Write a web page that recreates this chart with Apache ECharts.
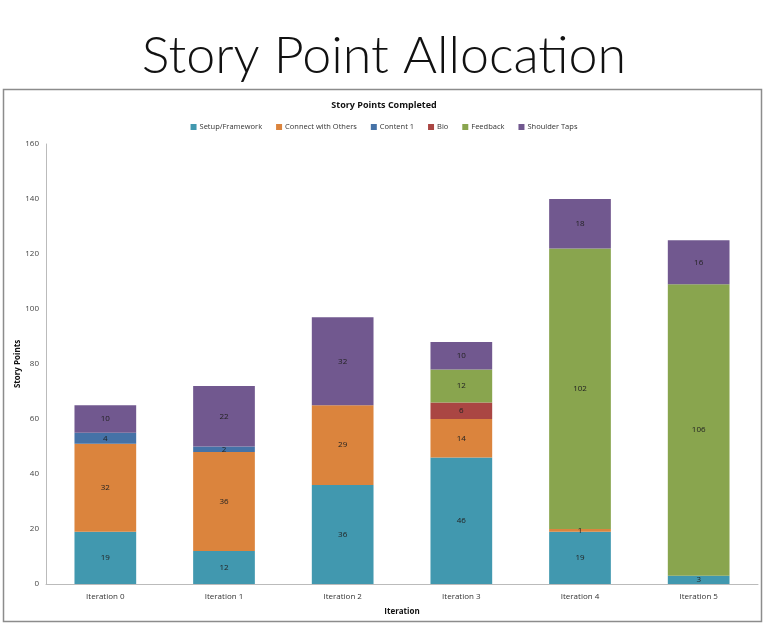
<!DOCTYPE html>
<html>
<head>
<meta charset="utf-8">
<script src="https://cdn.jsdelivr.net/npm/echarts@6/dist/echarts.min.js"></script>
<style>
  html, body { margin: 0; padding: 0; background: #fff; }
  #chart { width: 768px; height: 626px; }
</style>
</head>
<body>
<div id="chart"></div>
<script>
// data
const iterations = ['Iteration 0', 'Iteration 1', 'Iteration 2', 'Iteration 3', 'Iteration 4', 'Iteration 5']
const setupFramework = [19, 12, 36, 46, 19, 3]
const connectOthers = [32, 36, 29, 14, 1, 0]
const content1 = [4, 2, 0, 0, 0, 0]
const bio = [0, 0, 0, 6, 0, 0]
const feedback = [0, 0, 0, 12, 102, 106]
const shoulderTaps = [10, 22, 32, 10, 18, 16]

const font = 'Open Sans'
const labelStyle = {
    show: true,
    color: '#222',
    fontSize: 8,
    fontFamily: font,
    formatter: (p) => (p.value ? p.value : ''),
}

const makeSeries = (name, data, color) => ({
    name: name,
    type: 'bar',
    stack: 'sp',
    data: data,
    barWidth: '52%',
    itemStyle: { color: color },
    label: labelStyle,
    emphasis: { disabled: true },
})

const myChart = echarts.init(document.getElementById('chart'))
const option = {
    animation: false,
    title: [
        {
            text: 'Story Point Allocation',
            left: 'center',
            top: 25,
            textStyle: { fontFamily: 'Lato', fontWeight: 300, fontSize: 52, color: '#111' },
        },
        {
            text: 'Story Points Completed',
            left: 'center',
            top: 96,
            textStyle: { fontFamily: font, fontWeight: 'bold', fontSize: 9, color: '#111' },
        },
    ],
    graphic: [
        {
            type: 'rect',
            shape: { x: 3.5, y: 89.5, width: 758, height: 532 },
            style: { fill: 'none', stroke: '#8c8c8c', lineWidth: 1.5 },
            silent: true,
        },
    ],
    legend: {
        top: 118,
        left: 'center',
        itemWidth: 6,
        itemHeight: 6,
        itemGap: 14,
        icon: 'rect',
        textStyle: { fontFamily: font, fontSize: 7.5, color: '#333', padding: [0, 0, 0, -2] },
    },
    grid: { left: 46, right: 10, top: 144, bottom: 42, containLabel: false, outerBoundsMode: 'none' },
    xAxis: {
        type: 'category',
        data: iterations,
        name: 'Iteration',
        nameLocation: 'middle',
        nameGap: 24,
        nameMoveOverlap: false,
        nameTextStyle: { fontFamily: font, fontWeight: 'bold', fontSize: 8, color: '#111' },
        axisLine: { lineStyle: { color: '#bbb' } },
        axisTick: { show: false },
        axisLabel: { fontFamily: font, fontSize: 8, color: '#333', margin: 9 },
    },
    yAxis: {
        type: 'value',
        min: 0,
        max: 160,
        interval: 20,
        name: 'Story Points',
        nameLocation: 'middle',
        nameGap: 24,
        nameMoveOverlap: false,
        nameTextStyle: { fontFamily: font, fontWeight: 'bold', fontSize: 8, color: '#111' },
        axisLine: { show: true, lineStyle: { color: '#bbb' } },
        axisTick: { show: false },
        splitLine: { show: false },
        axisLabel: { fontFamily: font, fontSize: 8, color: '#444', margin: 7 },
    },
    series: [
        makeSeries('Setup/Framework', setupFramework, '#4198AF'),
        makeSeries('Connect with Others', connectOthers, '#DB843D'),
        makeSeries('Content 1', content1, '#4572A7'),
        makeSeries('Bio', bio, '#AA4643'),
        makeSeries('Feedback', feedback, '#89A54E'),
        makeSeries('Shoulder Taps', shoulderTaps, '#71588F'),
    ],
}
myChart.setOption(option)
</script>
</body>
</html>
